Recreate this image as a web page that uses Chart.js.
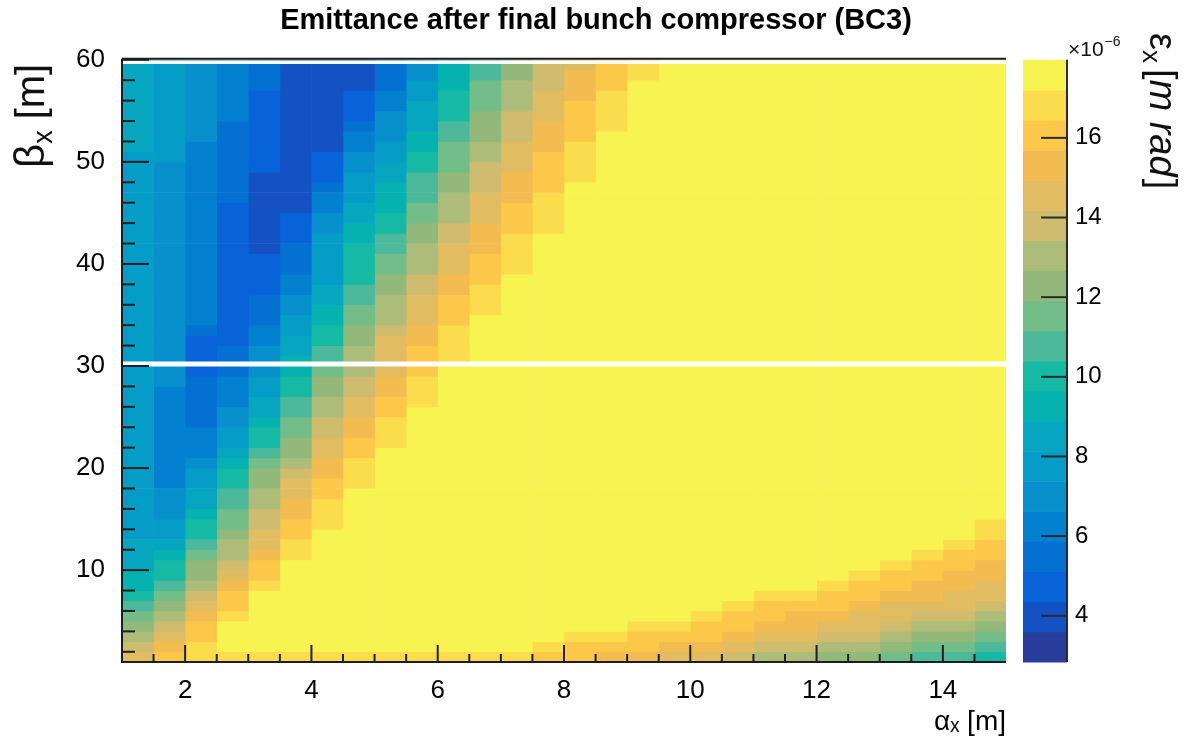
<!DOCTYPE html>
<html>
<head>
<meta charset="utf-8">
<title>Emittance after final bunch compressor (BC3)</title>
<script src="https://cdn.jsdelivr.net/npm/chart.js@4.4.1/dist/chart.umd.min.js"></script>
<style>
  html, body { margin: 0; padding: 0; background: #fff; }
</style>
</head>
<body>
<canvas id="emitChart" width="1192" height="744"></canvas>
<script>
// bin centres of the histogram (alpha_x columns, beta_x rows)
const alphaBins = [1.25, 1.75, 2.25, 2.75, 3.25, 3.75, 4.25, 4.75, 5.25, 5.75, 6.25, 6.75, 7.25, 7.75,
    8.25, 8.75, 9.25, 9.75, 10.25, 10.75, 11.25, 11.75, 12.25, 12.75, 13.25, 13.75, 14.25, 14.75];
const betaBins = [1.5, 2.5, 3.5, 4.5, 5.5, 6.5, 7.5, 8.5, 9.5, 10.5, 11.5, 12.5, 13.5, 14.5, 15.5, 16.5,
    17.5, 18.5, 19.5, 20.5, 21.5, 22.5, 23.5, 24.5, 25.5, 26.5, 27.5, 28.5, 29.5, 30.5, 31.5, 32.5,
    33.5, 34.5, 35.5, 36.5, 37.5, 38.5, 39.5, 40.5, 41.5, 42.5, 43.5, 44.5, 45.5, 46.5, 47.5, 48.5,
    49.5, 50.5, 51.5, 52.5, 53.5, 54.5, 55.5, 56.5, 57.5, 58.5, 59.5];

const xTicks = [2, 4, 6, 8, 10, 12, 14];
const yTicks = [10, 20, 30, 40, 50, 60];
const zTicks = [4, 6, 8, 10, 12, 14, 16];
const zRange = [2.84, 17.96];
const markLines = [30.2, 59.77];

// emittance in units of 1e-6 m rad, one array per alpha column, beta from 1.5 up to 59.5
const emittance = [
    [14.6, 13.8, 13, 12.3, 11.5, 10.8, 10, 9.3, 9.3, 8.5,
     8.5, 8.5, 7.8, 7.8, 7.8, 7.8, 7.8, 7.8, 7.8, 7.8,
     7.8, 7.8, 7.8, 7.8, 7.8, 7.8, 7.8, 7.8, 7.8, 7.8,
     7.8, 7.8, 7.8, 7.8, 7.8, 7.8, 7.8, 7.8, 7.8, 7.8,
     7.8, 7.8, 7.8, 7.8, 7.8, 7.8, 7.8, 7.8, 7.8, 7.8,
     8.5, 8.5, 8.5, 8.5, 8.5, 8.5, 8.5, 8.5, 8.5],
    [16.1, 15.3, 14.6, 13.8, 13, 12.3, 11.5, 10.8, 10, 10,
     9.3, 8.5, 7.8, 7.8, 7, 7, 7, 6.2, 6.2, 6.2,
     6.2, 6.2, 6.2, 6.2, 6.2, 6.2, 6.2, 7, 7, 7,
     7, 7, 7, 7, 7, 7, 7, 7, 7, 7,
     7, 7, 7, 7, 7, 7, 7, 7, 7, 7.8,
     7.8, 7.8, 7.8, 7.8, 7.8, 7.8, 7.8, 7.8, 7.8],
    [16.8, 16.8, 16.1, 16.1, 15.3, 14.6, 13.8, 13, 12.3, 12.3,
     11.5, 10.8, 10, 10, 9.3, 8.5, 8.5, 7.8, 7.8, 7,
     6.2, 6.2, 6.2, 5.5, 5.5, 5.5, 5.5, 5.5, 4.7, 4.7,
     4.7, 4.7, 5.5, 6.2, 6.2, 6.2, 6.2, 6.2, 6.2, 6.2,
     6.2, 6.2, 6.2, 6.2, 6.2, 6.2, 6.2, 6.2, 6.2, 6.2,
     6.2, 7, 7, 7, 7, 7, 7, 7, 7],
    [16.8, 17.6, 17.6, 17.6, 16.8, 16.1, 16.1, 15.3, 14.6, 13.8,
     13, 13, 12.3, 11.5, 11.5, 10.8, 10.8, 10, 10, 9.3,
     8.5, 7.8, 7.8, 7, 7, 6.2, 6.2, 6.2, 5.5, 5.5,
     5.5, 4.7, 4.7, 4.7, 4.7, 4.7, 4.7, 4.7, 4.7, 4.7,
     4.7, 4.7, 4.7, 4.7, 4.7, 5.5, 5.5, 5.5, 5.5, 5.5,
     5.5, 5.5, 5.5, 6.2, 6.2, 6.2, 6.2, 6.2, 6.2],
    [16.8, 17.6, 17.6, 17.6, 17.6, 17.6, 17.6, 16.8, 16.1, 16.1,
     15.3, 14.6, 14.6, 13.8, 13.8, 13, 13, 12.3, 12.3, 11.5,
     10.8, 10, 10, 9.3, 8.5, 8.5, 7.8, 7.8, 7, 7,
     7, 6.2, 6.2, 5.5, 5.5, 5.5, 4.7, 4.7, 4.7, 4.7,
     4, 4, 4, 4, 4, 4, 4, 4, 4.7, 4.7,
     4.7, 4.7, 4.7, 4.7, 4.7, 4.7, 5.5, 5.5, 5.5],
    [16.8, 17.6, 17.6, 17.6, 17.6, 17.6, 17.6, 17.6, 17.6, 17.6,
     16.8, 16.8, 16.1, 16.1, 15.3, 15.3, 14.6, 14.6, 13.8, 13,
     12.3, 12.3, 11.5, 11.5, 10.8, 10.8, 10, 10, 9.3, 9.3,
     8.5, 8.5, 7.8, 7.8, 7, 7, 6.2, 6.2, 5.5, 5.5,
     5.5, 4.7, 4.7, 4.7, 4, 4, 4, 4, 4, 4,
     4, 4, 4, 4, 4, 4, 4, 4, 4],
    [16.8, 17.6, 17.6, 17.6, 17.6, 17.6, 17.6, 17.6, 17.6, 17.6,
     17.6, 17.6, 17.6, 16.8, 16.8, 16.8, 16.1, 16.1, 15.3, 15.3,
     14.6, 14.6, 13.8, 13.8, 13, 13, 12.3, 12.3, 11.5, 10.8,
     10.8, 10, 10, 9.3, 9.3, 8.5, 8.5, 7.8, 7.8, 7.8,
     7.8, 7.8, 7, 7, 6.2, 6.2, 5.5, 4.7, 4.7, 4.7,
     4, 4, 4, 4, 4, 4, 4, 4, 4],
    [16.8, 17.6, 17.6, 17.6, 17.6, 17.6, 17.6, 17.6, 17.6, 17.6,
     17.6, 17.6, 17.6, 17.6, 17.6, 17.6, 17.6, 16.8, 16.8, 16.8,
     16.1, 16.1, 15.3, 15.3, 14.6, 14.6, 13.8, 13.8, 13, 13,
     13, 12.3, 12.3, 11.5, 11.5, 10.8, 10.8, 10, 10, 10,
     10, 9.3, 9.3, 8.5, 8.5, 7.8, 7.8, 7.8, 7, 7,
     6.2, 6.2, 5.5, 4.7, 4.7, 4.7, 4, 4, 4],
    [16.8, 17.6, 17.6, 17.6, 17.6, 17.6, 17.6, 17.6, 17.6, 17.6,
     17.6, 17.6, 17.6, 17.6, 17.6, 17.6, 17.6, 17.6, 17.6, 17.6,
     17.6, 16.8, 16.8, 16.8, 16.1, 16.1, 15.3, 15.3, 14.6, 14.6,
     14.6, 14.6, 13.8, 13, 13, 13, 12.3, 12.3, 11.5, 11.5,
     10.8, 10.8, 10, 10, 9.3, 9.3, 9.3, 8.5, 8.5, 7.8,
     7.8, 7, 7, 7, 6.2, 6.2, 5.5, 5.5, 5.5],
    [16.8, 17.6, 17.6, 17.6, 17.6, 17.6, 17.6, 17.6, 17.6, 17.6,
     17.6, 17.6, 17.6, 17.6, 17.6, 17.6, 17.6, 17.6, 17.6, 17.6,
     17.6, 17.6, 17.6, 17.6, 17.6, 16.8, 16.8, 16.8, 16.1, 16.1,
     16.1, 15.3, 15.3, 14.6, 14.6, 14.6, 13.8, 13.8, 13, 13,
     13, 12.3, 12.3, 11.5, 11.5, 10.8, 10.8, 10.8, 10, 10,
     9.3, 9.3, 8.5, 8.5, 8.5, 7.8, 7.8, 7, 7],
    [16.8, 17.6, 17.6, 17.6, 17.6, 17.6, 17.6, 17.6, 17.6, 17.6,
     17.6, 17.6, 17.6, 17.6, 17.6, 17.6, 17.6, 17.6, 17.6, 17.6,
     17.6, 17.6, 17.6, 17.6, 17.6, 17.6, 17.6, 17.6, 17.6, 16.8,
     16.8, 16.8, 16.8, 16.1, 16.1, 16.1, 15.3, 15.3, 14.6, 14.6,
     14.6, 13.8, 13.8, 13, 13, 13, 12.3, 12.3, 11.5, 11.5,
     11.5, 10.8, 10.8, 10, 10, 10, 9.3, 9.3, 9.3],
    [16.8, 17.6, 17.6, 17.6, 17.6, 17.6, 17.6, 17.6, 17.6, 17.6,
     17.6, 17.6, 17.6, 17.6, 17.6, 17.6, 17.6, 17.6, 17.6, 17.6,
     17.6, 17.6, 17.6, 17.6, 17.6, 17.6, 17.6, 17.6, 17.6, 17.6,
     17.6, 17.6, 17.6, 17.6, 16.8, 16.8, 16.8, 16.1, 16.1, 16.1,
     15.3, 15.3, 15.3, 14.6, 14.6, 14.6, 13.8, 13.8, 13.8, 13,
     13, 12.3, 12.3, 12.3, 11.5, 11.5, 11.5, 10.8, 10.8],
    [16.8, 17.6, 17.6, 17.6, 17.6, 17.6, 17.6, 17.6, 17.6, 17.6,
     17.6, 17.6, 17.6, 17.6, 17.6, 17.6, 17.6, 17.6, 17.6, 17.6,
     17.6, 17.6, 17.6, 17.6, 17.6, 17.6, 17.6, 17.6, 17.6, 17.6,
     17.6, 17.6, 17.6, 17.6, 17.6, 17.6, 17.6, 17.6, 16.8, 16.8,
     16.8, 16.8, 16.1, 16.1, 16.1, 15.3, 15.3, 15.3, 14.6, 14.6,
     14.6, 13.8, 13.8, 13.8, 13, 13, 13, 12.3, 12.3],
    [16.1, 16.8, 17.6, 17.6, 17.6, 17.6, 17.6, 17.6, 17.6, 17.6,
     17.6, 17.6, 17.6, 17.6, 17.6, 17.6, 17.6, 17.6, 17.6, 17.6,
     17.6, 17.6, 17.6, 17.6, 17.6, 17.6, 17.6, 17.6, 17.6, 17.6,
     17.6, 17.6, 17.6, 17.6, 17.6, 17.6, 17.6, 17.6, 17.6, 17.6,
     17.6, 17.6, 16.8, 16.8, 16.8, 16.8, 16.1, 16.1, 16.1, 16.1,
     15.3, 15.3, 15.3, 14.6, 14.6, 14.6, 13.8, 13.8, 13.8],
    [16.1, 16.1, 16.8, 17.6, 17.6, 17.6, 17.6, 17.6, 17.6, 17.6,
     17.6, 17.6, 17.6, 17.6, 17.6, 17.6, 17.6, 17.6, 17.6, 17.6,
     17.6, 17.6, 17.6, 17.6, 17.6, 17.6, 17.6, 17.6, 17.6, 17.6,
     17.6, 17.6, 17.6, 17.6, 17.6, 17.6, 17.6, 17.6, 17.6, 17.6,
     17.6, 17.6, 17.6, 17.6, 17.6, 17.6, 17.6, 16.8, 16.8, 16.8,
     16.8, 16.1, 16.1, 16.1, 16.1, 15.3, 15.3, 15.3, 14.6],
    [15.3, 16.1, 16.8, 17.6, 17.6, 17.6, 17.6, 17.6, 17.6, 17.6,
     17.6, 17.6, 17.6, 17.6, 17.6, 17.6, 17.6, 17.6, 17.6, 17.6,
     17.6, 17.6, 17.6, 17.6, 17.6, 17.6, 17.6, 17.6, 17.6, 17.6,
     17.6, 17.6, 17.6, 17.6, 17.6, 17.6, 17.6, 17.6, 17.6, 17.6,
     17.6, 17.6, 17.6, 17.6, 17.6, 17.6, 17.6, 17.6, 17.6, 17.6,
     17.6, 17.6, 16.8, 16.8, 16.8, 16.8, 16.1, 16.1, 16.1],
    [15.3, 16.1, 16.1, 16.8, 17.6, 17.6, 17.6, 17.6, 17.6, 17.6,
     17.6, 17.6, 17.6, 17.6, 17.6, 17.6, 17.6, 17.6, 17.6, 17.6,
     17.6, 17.6, 17.6, 17.6, 17.6, 17.6, 17.6, 17.6, 17.6, 17.6,
     17.6, 17.6, 17.6, 17.6, 17.6, 17.6, 17.6, 17.6, 17.6, 17.6,
     17.6, 17.6, 17.6, 17.6, 17.6, 17.6, 17.6, 17.6, 17.6, 17.6,
     17.6, 17.6, 17.6, 17.6, 17.6, 17.6, 17.6, 16.8, 16.8],
    [14.6, 15.3, 16.1, 16.8, 17.6, 17.6, 17.6, 17.6, 17.6, 17.6,
     17.6, 17.6, 17.6, 17.6, 17.6, 17.6, 17.6, 17.6, 17.6, 17.6,
     17.6, 17.6, 17.6, 17.6, 17.6, 17.6, 17.6, 17.6, 17.6, 17.6,
     17.6, 17.6, 17.6, 17.6, 17.6, 17.6, 17.6, 17.6, 17.6, 17.6,
     17.6, 17.6, 17.6, 17.6, 17.6, 17.6, 17.6, 17.6, 17.6, 17.6,
     17.6, 17.6, 17.6, 17.6, 17.6, 17.6, 17.6, 17.6, 17.6],
    [14.6, 15.3, 16.1, 16.1, 16.8, 17.6, 17.6, 17.6, 17.6, 17.6,
     17.6, 17.6, 17.6, 17.6, 17.6, 17.6, 17.6, 17.6, 17.6, 17.6,
     17.6, 17.6, 17.6, 17.6, 17.6, 17.6, 17.6, 17.6, 17.6, 17.6,
     17.6, 17.6, 17.6, 17.6, 17.6, 17.6, 17.6, 17.6, 17.6, 17.6,
     17.6, 17.6, 17.6, 17.6, 17.6, 17.6, 17.6, 17.6, 17.6, 17.6,
     17.6, 17.6, 17.6, 17.6, 17.6, 17.6, 17.6, 17.6, 17.6],
    [13.8, 14.6, 15.3, 16.1, 16.1, 16.8, 17.6, 17.6, 17.6, 17.6,
     17.6, 17.6, 17.6, 17.6, 17.6, 17.6, 17.6, 17.6, 17.6, 17.6,
     17.6, 17.6, 17.6, 17.6, 17.6, 17.6, 17.6, 17.6, 17.6, 17.6,
     17.6, 17.6, 17.6, 17.6, 17.6, 17.6, 17.6, 17.6, 17.6, 17.6,
     17.6, 17.6, 17.6, 17.6, 17.6, 17.6, 17.6, 17.6, 17.6, 17.6,
     17.6, 17.6, 17.6, 17.6, 17.6, 17.6, 17.6, 17.6, 17.6],
    [13, 13.8, 14.6, 15.3, 16.1, 16.1, 16.8, 17.6, 17.6, 17.6,
     17.6, 17.6, 17.6, 17.6, 17.6, 17.6, 17.6, 17.6, 17.6, 17.6,
     17.6, 17.6, 17.6, 17.6, 17.6, 17.6, 17.6, 17.6, 17.6, 17.6,
     17.6, 17.6, 17.6, 17.6, 17.6, 17.6, 17.6, 17.6, 17.6, 17.6,
     17.6, 17.6, 17.6, 17.6, 17.6, 17.6, 17.6, 17.6, 17.6, 17.6,
     17.6, 17.6, 17.6, 17.6, 17.6, 17.6, 17.6, 17.6, 17.6],
    [13, 13.8, 14.6, 15.3, 15.3, 16.1, 16.8, 17.6, 17.6, 17.6,
     17.6, 17.6, 17.6, 17.6, 17.6, 17.6, 17.6, 17.6, 17.6, 17.6,
     17.6, 17.6, 17.6, 17.6, 17.6, 17.6, 17.6, 17.6, 17.6, 17.6,
     17.6, 17.6, 17.6, 17.6, 17.6, 17.6, 17.6, 17.6, 17.6, 17.6,
     17.6, 17.6, 17.6, 17.6, 17.6, 17.6, 17.6, 17.6, 17.6, 17.6,
     17.6, 17.6, 17.6, 17.6, 17.6, 17.6, 17.6, 17.6, 17.6],
    [12.3, 13, 13.8, 14.6, 15.3, 16.1, 16.1, 16.8, 17.6, 17.6,
     17.6, 17.6, 17.6, 17.6, 17.6, 17.6, 17.6, 17.6, 17.6, 17.6,
     17.6, 17.6, 17.6, 17.6, 17.6, 17.6, 17.6, 17.6, 17.6, 17.6,
     17.6, 17.6, 17.6, 17.6, 17.6, 17.6, 17.6, 17.6, 17.6, 17.6,
     17.6, 17.6, 17.6, 17.6, 17.6, 17.6, 17.6, 17.6, 17.6, 17.6,
     17.6, 17.6, 17.6, 17.6, 17.6, 17.6, 17.6, 17.6, 17.6],
    [12.3, 13, 13.8, 14.6, 14.6, 15.3, 16.1, 16.1, 16.8, 17.6,
     17.6, 17.6, 17.6, 17.6, 17.6, 17.6, 17.6, 17.6, 17.6, 17.6,
     17.6, 17.6, 17.6, 17.6, 17.6, 17.6, 17.6, 17.6, 17.6, 17.6,
     17.6, 17.6, 17.6, 17.6, 17.6, 17.6, 17.6, 17.6, 17.6, 17.6,
     17.6, 17.6, 17.6, 17.6, 17.6, 17.6, 17.6, 17.6, 17.6, 17.6,
     17.6, 17.6, 17.6, 17.6, 17.6, 17.6, 17.6, 17.6, 17.6],
    [11.5, 12.3, 13, 13.8, 14.6, 14.6, 15.3, 16.1, 16.1, 16.8,
     17.6, 17.6, 17.6, 17.6, 17.6, 17.6, 17.6, 17.6, 17.6, 17.6,
     17.6, 17.6, 17.6, 17.6, 17.6, 17.6, 17.6, 17.6, 17.6, 17.6,
     17.6, 17.6, 17.6, 17.6, 17.6, 17.6, 17.6, 17.6, 17.6, 17.6,
     17.6, 17.6, 17.6, 17.6, 17.6, 17.6, 17.6, 17.6, 17.6, 17.6,
     17.6, 17.6, 17.6, 17.6, 17.6, 17.6, 17.6, 17.6, 17.6],
    [10.8, 11.5, 12.3, 13, 13.8, 14.6, 15.3, 15.3, 16.1, 16.1,
     16.8, 17.6, 17.6, 17.6, 17.6, 17.6, 17.6, 17.6, 17.6, 17.6,
     17.6, 17.6, 17.6, 17.6, 17.6, 17.6, 17.6, 17.6, 17.6, 17.6,
     17.6, 17.6, 17.6, 17.6, 17.6, 17.6, 17.6, 17.6, 17.6, 17.6,
     17.6, 17.6, 17.6, 17.6, 17.6, 17.6, 17.6, 17.6, 17.6, 17.6,
     17.6, 17.6, 17.6, 17.6, 17.6, 17.6, 17.6, 17.6, 17.6],
    [10.8, 11.5, 12.3, 13, 13.8, 14.6, 14.6, 15.3, 15.3, 16.1,
     16.1, 16.8, 17.6, 17.6, 17.6, 17.6, 17.6, 17.6, 17.6, 17.6,
     17.6, 17.6, 17.6, 17.6, 17.6, 17.6, 17.6, 17.6, 17.6, 17.6,
     17.6, 17.6, 17.6, 17.6, 17.6, 17.6, 17.6, 17.6, 17.6, 17.6,
     17.6, 17.6, 17.6, 17.6, 17.6, 17.6, 17.6, 17.6, 17.6, 17.6,
     17.6, 17.6, 17.6, 17.6, 17.6, 17.6, 17.6, 17.6, 17.6],
    [10, 10.8, 11.5, 12.3, 13, 13.8, 14.6, 14.6, 15.3, 15.3,
     16.1, 16.1, 16.8, 16.8, 17.6, 17.6, 17.6, 17.6, 17.6, 17.6,
     17.6, 17.6, 17.6, 17.6, 17.6, 17.6, 17.6, 17.6, 17.6, 17.6,
     17.6, 17.6, 17.6, 17.6, 17.6, 17.6, 17.6, 17.6, 17.6, 17.6,
     17.6, 17.6, 17.6, 17.6, 17.6, 17.6, 17.6, 17.6, 17.6, 17.6,
     17.6, 17.6, 17.6, 17.6, 17.6, 17.6, 17.6, 17.6, 17.6]
];

// 20 colour levels of the palette, low to high
const birdPalette = ['#283c9c', '#1452c4', '#0863d8', '#0470d2', '#0480d0', '#0890cc', '#069cc8',
    '#06a6c0', '#06b2b0', '#16b9a4', '#4cb99a', '#72bd88', '#93b97a', '#adbc78', '#cfbc6e',
    '#e2bc60', '#f3bc50', '#fcc84a', '#fbdc4c', '#f7f452'];

const fontFamily = '"Liberation Sans", Arial, Helvetica, sans-serif';

function cellColor(v) {
    const n = birdPalette.length;
    let k = Math.floor((v - zRange[0]) / (zRange[1] - zRange[0]) * n);
    k = Math.max(0, Math.min(n - 1, k));
    return birdPalette[k];
}

const cellSets = alphaBins.map((a, i) => ({
    type: 'bar',
    data: betaBins.map((b, j) => ({x: a, y: [b - 0.5, b + 0.5], v: emittance[i][j]})),
    backgroundColor: ctx => cellColor(ctx.raw ? ctx.raw.v : zRange[0]),
    borderWidth: 0,
    grouped: false,
    barPercentage: 1,
    categoryPercentage: 1,
    order: 2
}));

const lineSets = markLines.map((b, i) => ({
    type: 'line',
    data: [{x: 1, y: b}, {x: 15, y: b}],
    borderColor: '#ffffff',
    borderWidth: i === 0 ? 5 : 3.5,
    pointRadius: 0,
    order: 1
}));

// draws text pieces one after another along the current x direction
function drawPieces(ctx, pieces) {
    let w = 0;
    pieces.forEach(p => {
        ctx.font = p.font;
        ctx.fillText(p.text, w, p.dy || 0);
        w += ctx.measureText(p.text).width + (p.gap || 0);
    });
    return w;
}

function piecesWidth(ctx, pieces) {
    let w = 0;
    pieces.forEach(p => {
        ctx.font = p.font;
        w += ctx.measureText(p.text).width + (p.gap || 0);
    });
    return w;
}

const frameAndColorbar = {
    id: 'frameAndColorbar',
    afterDatasetsDraw(chart) {
        const {ctx, chartArea: area, scales} = chart;
        const xs = scales.x, ys = scales.y, zs = scales.z;
        const line = (x1, y1, x2, y2) => {
            ctx.beginPath();
            ctx.moveTo(x1, y1);
            ctx.lineTo(x2, y2);
            ctx.stroke();
        };
        ctx.save();

        // colour bar
        const barLeft = zs.left + 17, barRight = zs.left + 61;
        const step = (zRange[1] - zRange[0]) / birdPalette.length;
        birdPalette.forEach((col, k) => {
            const top = zs.getPixelForValue(zRange[0] + (k + 1) * step);
            const bottom = zs.getPixelForValue(zRange[0] + k * step);
            ctx.fillStyle = col;
            ctx.fillRect(barLeft, top, barRight - barLeft, bottom - top + 0.5);
        });
        ctx.strokeStyle = '#2a2a2a';
        ctx.lineWidth = 2;
        line(barRight, zs.top, barRight, zs.bottom);
        zTicks.forEach(v => {
            const p = zs.getPixelForValue(v);
            line(barRight - 26, p, barRight, p);
        });

        // frame and inward ticks
        ctx.strokeStyle = '#1e1e1e';
        line(area.left, area.top - 1, area.right, area.top - 1);
        line(area.left, area.top - 1, area.left, area.bottom + 1);
        line(area.left - 1, area.bottom, area.right, area.bottom);
        for (let v = 2; v < 60; v += 2) {
            const p = ys.getPixelForValue(v);
            line(area.left, p, area.left + (v % 10 === 0 ? 27 : 13), p);
        }
        line(area.left, area.top, area.left + 27, area.top);
        for (let v = 1.5; v < 15; v += 0.5) {
            const p = xs.getPixelForValue(v);
            line(p, area.bottom, p, area.bottom - (xTicks.includes(v) ? 17 : 8));
        }

        // exponent of the colour axis
        ctx.fillStyle = '#111';
        ctx.textBaseline = 'alphabetic';
        ctx.font = '21px ' + fontFamily;
        ctx.fillText('\u00d710', barRight + 1, 56);
        const ew = ctx.measureText('\u00d710').width;
        ctx.font = '14px ' + fontFamily;
        ctx.fillText('\u22126', barRight + 2 + ew, 46);

        // y axis title, reading upwards, ending at the top of the frame
        const yTitle = [
            {text: '\u03b2', font: '42px ' + fontFamily},
            {text: 'x', font: '27px ' + fontFamily, dy: 8, gap: 11},
            {text: '[m]', font: '40px ' + fontFamily}
        ];
        ctx.save();
        ctx.translate(44, area.top + 4);
        ctx.rotate(-Math.PI / 2);
        ctx.translate(-piecesWidth(ctx, yTitle), 0);
        drawPieces(ctx, yTitle);
        ctx.restore();

        // colour axis title, rotated clockwise
        ctx.translate(1150, 33);
        ctx.rotate(Math.PI / 2);
        drawPieces(ctx, [
            {text: '\u03b5', font: '38px ' + fontFamily},
            {text: 'x', font: '26px ' + fontFamily, dy: 7, gap: 6},
            {text: '[', font: '38px ' + fontFamily},
            {text: 'm rad', font: 'italic 38px ' + fontFamily, gap: 2},
            {text: ']', font: '38px ' + fontFamily}
        ]);
        ctx.restore();
    }
};

new Chart(document.getElementById('emitChart'), {
    type: 'bar',
    data: {datasets: [...cellSets, ...lineSets]},
    options: {
        responsive: false,
        animation: false,
        events: [],
        layout: {padding: 0},
        plugins: {
            legend: {display: false},
            tooltip: {enabled: false},
            title: {
                display: true,
                text: 'Emittance after final bunch compressor (BC3)',
                color: '#000',
                font: {family: fontFamily, size: 29, weight: 'bold'},
                padding: {top: 4, bottom: 21}
            }
        },
        scales: {
            x: {
                type: 'linear',
                min: 1,
                max: 15,
                offset: false,
                afterBuildTicks: s => { s.ticks = xTicks.map(v => ({value: v})); },
                afterFit: s => { s.height = 82; },
                grid: {display: false, drawTicks: false, offset: false},
                border: {display: false},
                ticks: {color: '#000', font: {family: fontFamily, size: 26}, padding: 13, maxRotation: 0},
                title: {
                    display: true,
                    text: '\u03b1\u2093 [m]',
                    align: 'end',
                    color: '#000',
                    font: {family: fontFamily, size: 28},
                    padding: {bottom: 5}
                }
            },
            y: {
                type: 'linear',
                min: 1,
                max: 60,
                afterBuildTicks: s => { s.ticks = yTicks.map(v => ({value: v})); },
                afterFit: s => { s.width = 122; },
                grid: {display: false, drawTicks: false},
                border: {display: false},
                ticks: {color: '#000', font: {family: fontFamily, size: 26}, padding: 17}
            },
            z: {
                type: 'linear',
                axis: 'y',
                position: 'right',
                min: zRange[0],
                max: zRange[1],
                afterBuildTicks: s => { s.ticks = zTicks.map(v => ({value: v})); },
                afterFit: s => { s.width = 186; },
                // invisible tick marks push the labels past the colour bar
                grid: {display: true, drawOnChartArea: false, drawTicks: true, tickLength: 61, color: 'rgba(0,0,0,0)'},
                border: {display: false},
                ticks: {color: '#000', font: {family: fontFamily, size: 24}, padding: 8}
            }
        }
    },
    plugins: [frameAndColorbar]
});
</script>
</body>
</html>
